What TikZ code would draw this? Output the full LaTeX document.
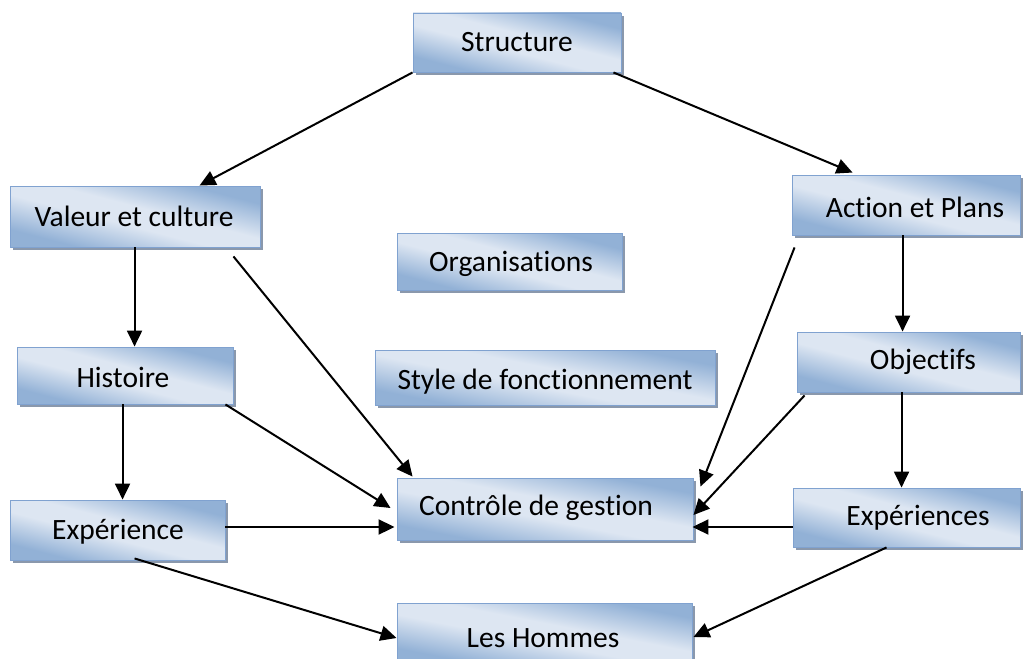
\documentclass[tikz,border=0pt]{standalone}
\usepackage{fontspec}
\setmainfont{Carlito}[Ligatures=NoCommon]
\usetikzlibrary{arrows.meta,calc}
\definecolor{boxdark}{RGB}{146,177,214}
\definecolor{boxlight}{RGB}{221,230,242}
\definecolor{boxline}{RGB}{128,162,208}
\definecolor{boxshadow}{RGB}{138,152,172}
% fill of the boxes: light band along the diagonal, blue towards two corners
\pgfdeclareverticalshading{boxshade}{100bp}{%
  color(0bp)=(boxdark); color(28bp)=(boxdark); color(45bp)=(boxlight);
  color(55bp)=(boxlight); color(72bp)=(boxdark); color(100bp)=(boxdark)}
\tikzset{
  box/.style={draw=boxline, line width=0.9pt, inner sep=0pt,
    preaction={fill=boxshadow, transform canvas={shift={(3pt,-3pt)}}},
    shading=boxshade, shading angle=-14.5},
  widebox/.style={box, shading angle=-11},
  lbl/.style={inner sep=0pt, font=\fontsize{29.5}{33}\selectfont},
  link/.style={line width=2pt, -{Triangle[length=16pt,width=15pt]}}
}
\begin{document}
\begin{tikzpicture}[x=1pt,y=-1pt]
\useasboundingbox (0,0) rectangle (1027,658);
\begin{scope}
\clip (0,0) rectangle (1027,658);
% boxes
\node[box, minimum width=208pt, minimum height=59pt] (st)  at (517,42.5) {};
\node[box, minimum width=250pt, minimum height=61pt] (vc)  at (135,216.5) {};
\node[box, minimum width=228pt, minimum height=60pt] (ap)  at (906,205) {};
\node[box, minimum width=225pt, minimum height=57pt] (org) at (509.5,261.5) {};
\node[box, minimum width=216pt, minimum height=57pt] (hi)  at (125,375.5) {};
\node[widebox, minimum width=340pt, minimum height=55pt] (sf)  at (545,377.5) {};
\node[box, minimum width=223pt, minimum height=60pt] (ob)  at (908.5,362) {};
\node[box, minimum width=215pt, minimum height=60pt] (ex)  at (117.5,530) {};
\node[widebox, minimum width=296pt, minimum height=62pt] (cg)  at (545,509) {};
\node[box, minimum width=227pt, minimum height=59pt] (exs) at (906.5,517.5) {};
\node[widebox, minimum width=295pt, minimum height=60pt] (lh)  at (544.5,633) {};
\end{scope}
% labels
\node[lbl] (stt)  at (517,42)  {Structure};
\node[lbl] (vct)  at (134,216) {Valeur et culture};
\node[lbl] (apt)  at (915,207) {Action et Plans};
\node[lbl] (orgt) at (511,264) {Organisations};
\node[lbl] (hit)  at (123,377) {Histoire};
\node[lbl] (sft)  at (545,382) {Style de fonctionnement};
\node[lbl] (obt)  at (923,362) {Objectifs};
\node[lbl] (ext)  at (118,532) {Expérience};
\node[lbl] (cgt)  at (536,508) {Contrôle de gestion};
\node[lbl] (exst) at (918,518) {Expériences};
\node[lbl] (lht)  at (543,638) {Les Hommes};
% connectors
\draw[link] (st.south west) -- ($(vc.north west)+(190,0)$);
\draw[link] ($(st.south east)+(-8,0)$) -- ($(ap.north west)+(61,-2)$);
\draw[link] ($(vc.south west)+(125,0)$) -- ($(hi.north west)+(118,0)$);
\draw[link] ($(vc.south east)+(-27,9)$) -- ($(cg.north west)+(16,-1)$);
\draw[link] ($(hi.south west)+(106,0)$) -- ($(ex.north west)+(113,0)$);
\draw[link] ($(hi.south east)+(-8,0)$) -- ($(cg.west)+(-6,-1)$);
\draw[link] ($(ex.east)+(0,-3)$) -- ($(cg.west)+(-2,18)$);
\draw[link] ($(ex.south west)+(125,-2)$) -- ($(lh.west)+(0,5)$);
\draw[link] ($(ap.south west)+(3,12)$) -- ($(cg.north east)+(7,9)$);
\draw[link] ($(ap.south west)+(111,0)$) -- ($(ob.north west)+(106,0)$);
\draw[link] ($(ob.south west)+(8,3)$) -- ($(cg.east)+(0,6)$);
\draw[link] ($(ob.south west)+(105,0)$) -- ($(exs.north west)+(109,0)$);
\draw[link] ($(exs.west)+(0,9.5)$) -- ($(cg.east)+(-1,18)$);
\draw[link] ($(exs.south west)+(94,0)$) -- ($(lh.east)+(1,4)$);
\end{tikzpicture}
\end{document}
